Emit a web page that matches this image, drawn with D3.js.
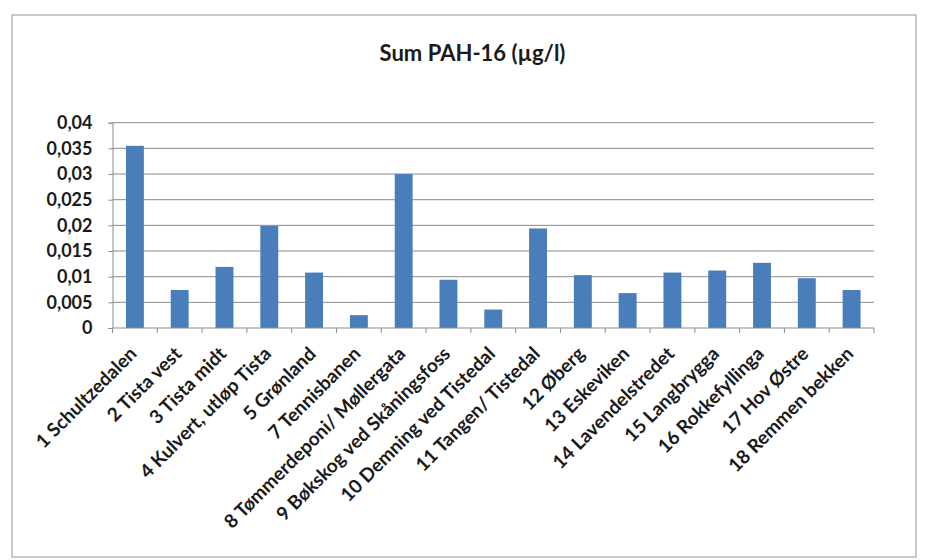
<!DOCTYPE html>
<html>
<head>
<meta charset="utf-8">
<script src="https://cdn.jsdelivr.net/npm/d3@7"></script>
<style>
  html, body { margin: 0; padding: 0; background: #ffffff; }
  svg { display: block; }
  text { font-family: Lato, "Open Sans", sans-serif; font-weight: 700; fill: #1a1a1a; }
</style>
</head>
<body>
<svg id="chart" width="930" height="560"></svg>
<script>
// Sampling stations and their summed PAH-16 concentrations (µg/l)
const stations = [
  "1 Schultzedalen", "2 Tista vest", "3 Tista midt", "4 Kulvert, utløp Tista",
  "5 Grønland", "7 Tennisbanen", "8 Tømmerdeponi/ Møllergata",
  "9 Bøkskog ved Skåningsfoss", "10 Demning ved Tistedal", "11 Tangen/ Tistedal",
  "12 Øberg", "13 Eskeviken", "14 Lavendelstredet", "15 Langbrygga",
  "16 Rokkefyllinga", "17 Hov Østre", "18 Remmen bekken"
];
const pahValues = [
  0.0355, 0.0074, 0.0119, 0.0199, 0.0108, 0.0025, 0.0300,
  0.0094, 0.0036, 0.0194, 0.0103, 0.0068, 0.0108, 0.0112,
  0.0127, 0.0097, 0.0074
];
const yTicks = [0, 0.005, 0.01, 0.015, 0.02, 0.025, 0.03, 0.035, 0.04];
const yTickLabels = ["0", "0,005", "0,01", "0,015", "0,02", "0,025", "0,03", "0,035", "0,04"];
const chartTitle = "Sum PAH-16 (µg/l)";

const svg = d3.select("#chart");
const plot = { left: 112.5, right: 874, top: 122.7, bottom: 328 };

// Chart frame
svg.append("rect")
  .attr("x", 12).attr("y", 15).attr("width", 904).attr("height", 542)
  .attr("fill", "#ffffff").attr("stroke", "#a6a6a6").attr("stroke-width", 1.2);

const x = d3.scaleBand()
  .domain(stations)
  .range([plot.left, plot.right])
  .paddingInner(0.6).paddingOuter(0.3);

const y = d3.scaleLinear()
  .domain([0, 0.04])
  .range([plot.bottom, plot.top]);

// Horizontal gridlines
svg.append("g")
  .selectAll("line")
  .data(yTicks.slice(1))
  .join("line")
  .attr("x1", plot.left).attr("x2", plot.right)
  .attr("y1", d => y(d)).attr("y2", d => y(d))
  .attr("stroke", "#8a8a8a").attr("stroke-width", 1);

// Bars
svg.append("g")
  .selectAll("rect")
  .data(pahValues)
  .join("rect")
  .attr("x", (d, i) => x(stations[i]))
  .attr("y", d => y(d))
  .attr("width", x.bandwidth())
  .attr("height", d => y(0) - y(d))
  .attr("fill", "#4a7ebb");

// Y axis
const yAxis = d3.axisLeft(y)
  .tickValues(yTicks)
  .tickFormat((d, i) => yTickLabels[i])
  .tickSize(4)
  .tickPadding(16);
const gy = svg.append("g")
  .attr("transform", `translate(${plot.left},0)`)
  .call(yAxis);
gy.select(".domain").attr("stroke", "#8a8a8a");
gy.selectAll(".tick line").attr("stroke", "#8a8a8a");
gy.selectAll(".tick text")
  .style("font-size", "18px")
  .style("font-family", "Lato, sans-serif")
  .style("font-weight", "700")
  .attr("fill", "#1a1a1a");

// X axis baseline with tick marks between categories
const step = x.step();
const bounds = d3.range(stations.length + 1).map(i => plot.left + i * step);
const gx = svg.append("g");
gx.append("line")
  .attr("x1", plot.left).attr("x2", plot.right)
  .attr("y1", plot.bottom).attr("y2", plot.bottom)
  .attr("stroke", "#8a8a8a");
gx.selectAll("line.tick")
  .data(bounds)
  .join("line")
  .attr("class", "tick")
  .attr("x1", d => d).attr("x2", d => d)
  .attr("y1", plot.bottom).attr("y2", plot.bottom + 5)
  .attr("stroke", "#8a8a8a");

// Rotated category labels
gx.selectAll("text")
  .data(stations)
  .join("text")
  .attr("transform", d => `translate(${x(d) + x.bandwidth() / 2 + 3},${plot.bottom + 27}) rotate(-45)`)
  .attr("text-anchor", "end")
  .style("font-size", "19px")
  .text(d => d);

// Title
svg.append("text")
  .attr("x", 472.5).attr("y", 61)
  .attr("text-anchor", "middle")
  .style("font-size", "22px")
  .text(chartTitle);
</script>
</body>
</html>
